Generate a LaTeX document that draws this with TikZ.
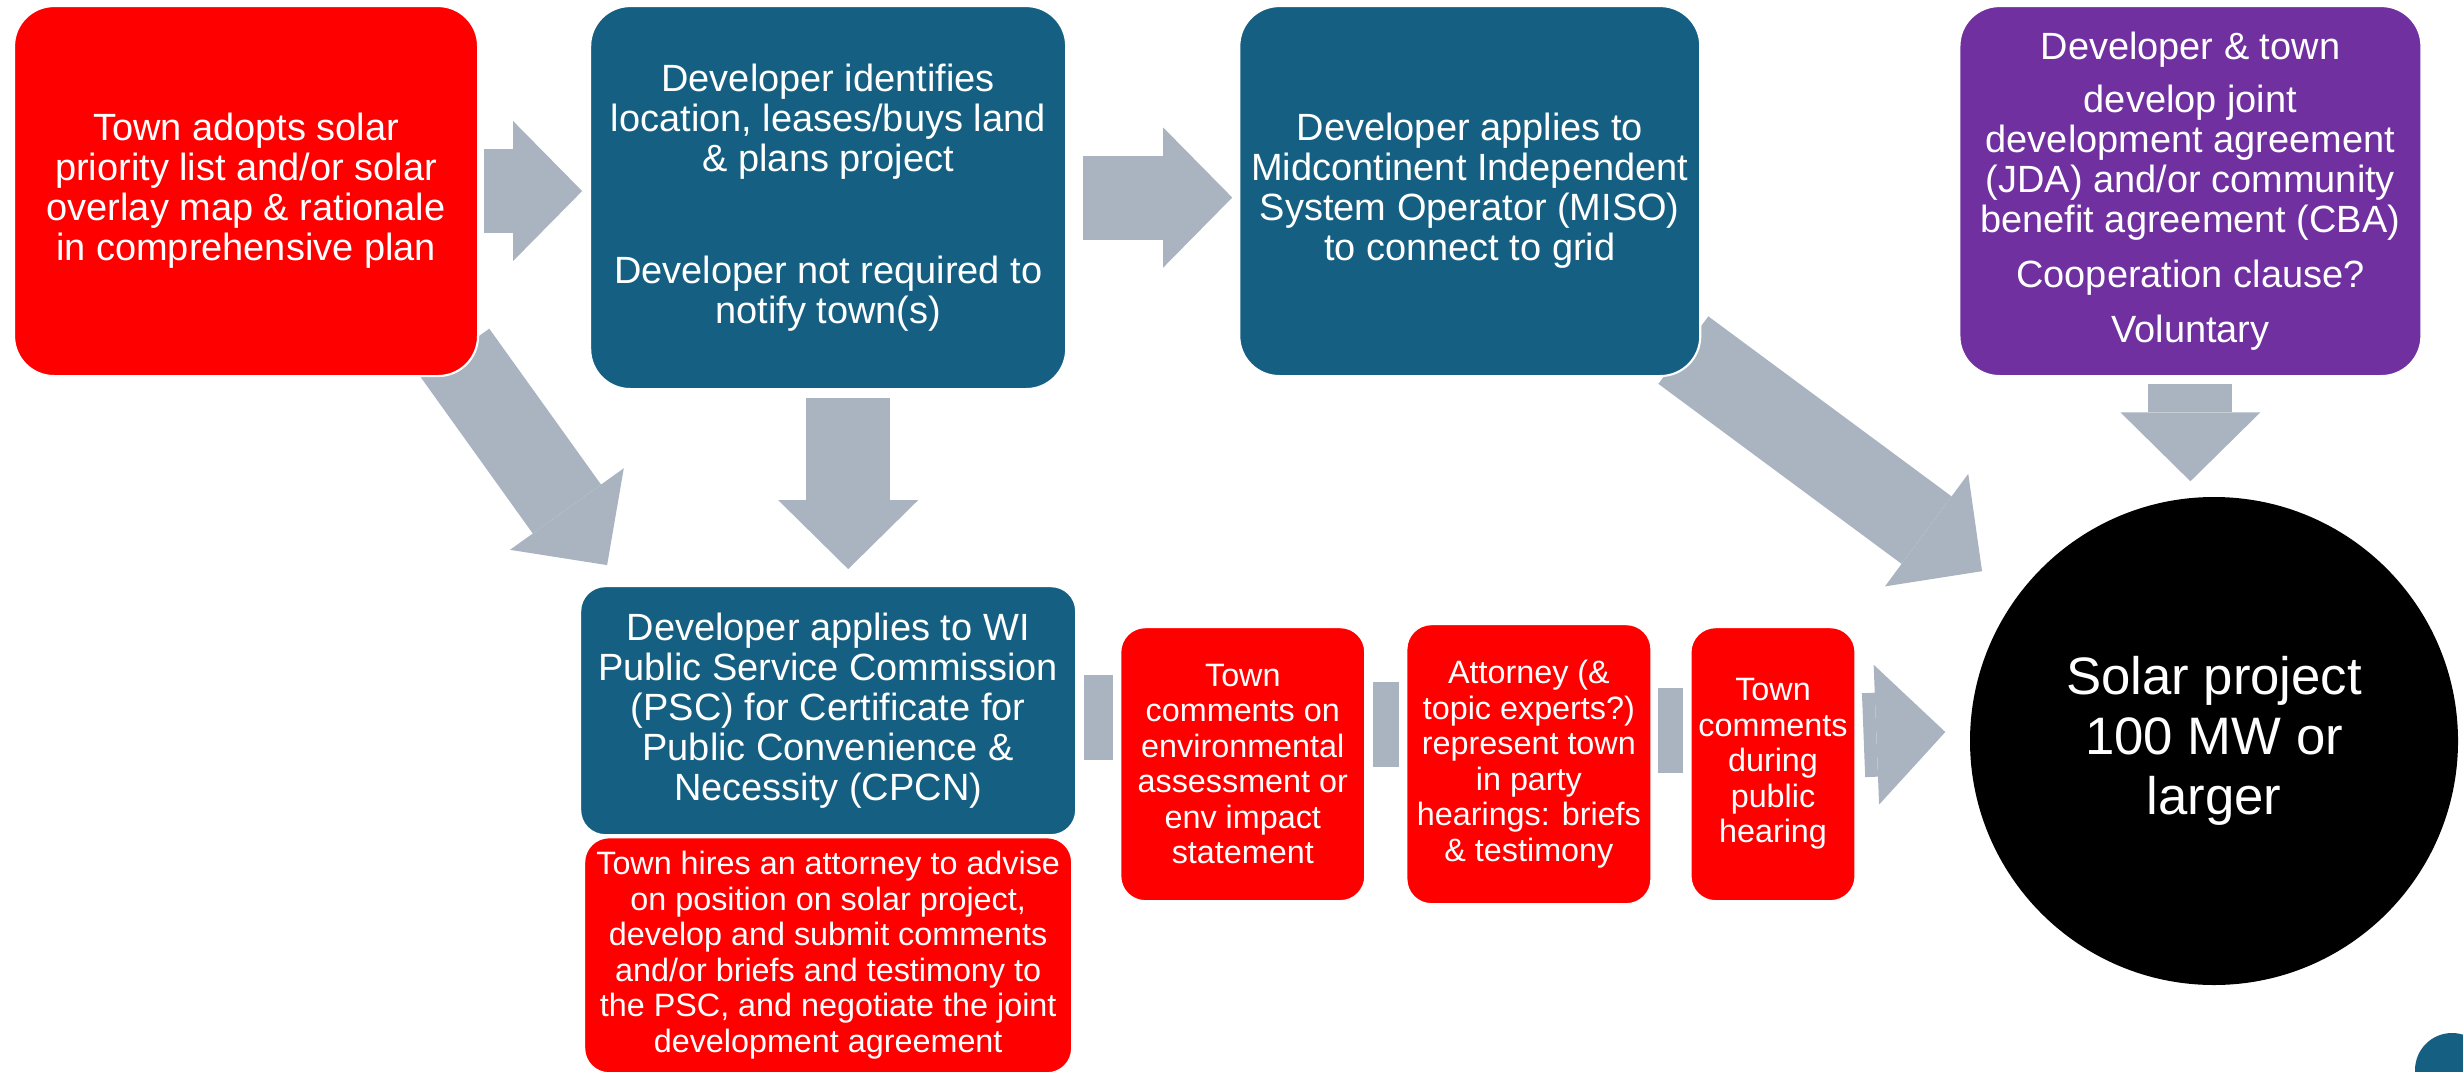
\documentclass[tikz,border=0pt]{standalone}
\usepackage{fontspec}
\setmainfont{Liberation Sans}
\usepackage{tikz}
\usetikzlibrary{arrows.meta, positioning, calc, backgrounds}
\definecolor{townred}{RGB}{255, 0, 0}
\definecolor{devblue}{RGB}{21, 96, 130}
\definecolor{jdapurple}{RGB}{112, 48, 160}
\definecolor{arrowgray}{RGB}{169, 180, 192}

\begin{document}
\begin{tikzpicture}[
        stepbox/.style={rectangle, rounded corners=0.4cm, draw=white, line width=0.6pt, text=white, align=center, inner sep=1pt, font=\fontsize{10.8}{11.4}\selectfont},
        smallbox/.style={stepbox, fill=townred, rounded corners=0.25cm, font=\fontsize{9.2}{10.1}\selectfont},
        bigarrow/.style={arrowgray, line width=0.84cm, -{Triangle[width=1.4cm, length=0.69cm, line width=0pt]}},
        gapbar/.style={arrowgray, line width=0.85cm}
    ]
        \useasboundingbox (0,0) rectangle (24.63,-10.71);

        % Top row
        \node (town) [stepbox, fill=townred, minimum width=4.64cm, minimum height=3.70cm, anchor=north west] at (0.13,-0.05) {Town adopts solar\\priority list and/or solar\\overlay map \& rationale\\in comprehensive plan};
        \node (ident) [stepbox, fill=devblue, minimum width=4.76cm, minimum height=3.83cm, right=1.10cm of town.north east, anchor=north west] {Developer identifies\\location, leases/buys land\\\& plans project\\[0.72cm]Developer not required to\\notify town(s)};
        \node (miso) [stepbox, fill=devblue, minimum width=4.61cm, minimum height=3.70cm, right=1.71cm of ident.north east, anchor=north west] {Developer applies to\\Midcontinent Independent\\System Operator (MISO)\\to connect to grid};
        \node (jda) [stepbox, fill=jdapurple, minimum width=4.62cm, minimum height=3.70cm, right=2.57cm of miso.north east, anchor=north west] {Developer \& town\\[0.13cm]develop joint\\development agreement\\(JDA) and/or community\\benefit agreement (CBA)\\[0.14cm]Cooperation clause?\\[0.15cm]Voluntary};

        % Permit row
        \node (psc) [stepbox, fill=devblue, rounded corners=0.25cm, minimum width=4.96cm, minimum height=2.49cm, below=1.95cm of ident] {Developer applies to WI\\Public Service Commission\\(PSC) for Certificate for\\Public Convenience \&\\Necessity (CPCN)};
        \node (hires) [smallbox, minimum width=4.88cm, minimum height=2.36cm, below=0cm of psc] {Town hires an attorney to advise\\on position on solar project,\\develop and submit comments\\and/or briefs and testimony to\\the PSC, and negotiate the joint\\development agreement};
        \node (env) [smallbox, minimum width=2.45cm, minimum height=2.74cm, below right=0.41cm and 0.42cm of psc.north east] {Town\\comments on\\environmental\\assessment or\\env impact\\statement};
        \node (atty) [smallbox, minimum width=2.45cm, minimum height=2.80cm, right=0.39cm of env] {Attorney (\&\\topic experts?)\\represent town\\in party\\hearings: briefs\\\& testimony};
        \node (hear) [smallbox, minimum width=1.65cm, minimum height=2.74cm, right=0.37cm of atty] {Town\\comments\\during\\public\\hearing};

        % Outcome
        \node (solar) [circle, fill=black, text=white, minimum size=4.88cm, inner sep=0pt, align=center, font=\fontsize{15}{17}\selectfont] at (22.14,-7.41) {Solar project\\100 MW or\\larger};
        \node (dot) [circle, fill=devblue, minimum size=0.74cm, inner sep=0pt] at (24.52,-10.70) {};

        % Arrows
        \begin{scope}[on background layer]
            \draw [bigarrow] ([xshift=0.05cm]town.east) -- ([xshift=-0.07cm]town.east -| ident.west);
            \draw [bigarrow] ([xshift=0.16cm]ident.east) -- ([xshift=-0.06cm]ident.east -| miso.west);
            \draw [bigarrow] ([shift={(0.2,-0.08)}]ident.south) -- ([shift={(0.2,0.16)}]psc.north);
            \draw [bigarrow] ([shift={(-0.24,0.24)}]town.south east) -- ([shift={(0.28,0.2)}]psc.north west);
            \draw [bigarrow] ([shift={(-0.18,0.27)}]miso.south east) -- ([shift={(-0.34,0.26)}]solar.144);
            \draw [bigarrow] ([yshift=-0.07cm]jda.south) -- ([yshift=0.15cm]jda.south |- solar.north);
            \draw [bigarrow] ([shift={(0.07,0.29)}]hear.east) -- ([shift={(-0.24,0.09)}]solar.west);

            \draw [gapbar] ([shift={(0.07,-0.07)}]psc.east) -- ([shift={(-0.06,-0.07)}]psc.east -| env.west);
            \draw [gapbar] ([shift={(0.07,0.40)}]env.east) -- ([shift={(-0.06,0.40)}]atty.west);
            \draw [gapbar] ([shift={(0.06,0.34)}]atty.east) -- ([shift={(-0.06,0.34)}]hear.west);
        \end{scope}
    \end{tikzpicture}
\end{document}
